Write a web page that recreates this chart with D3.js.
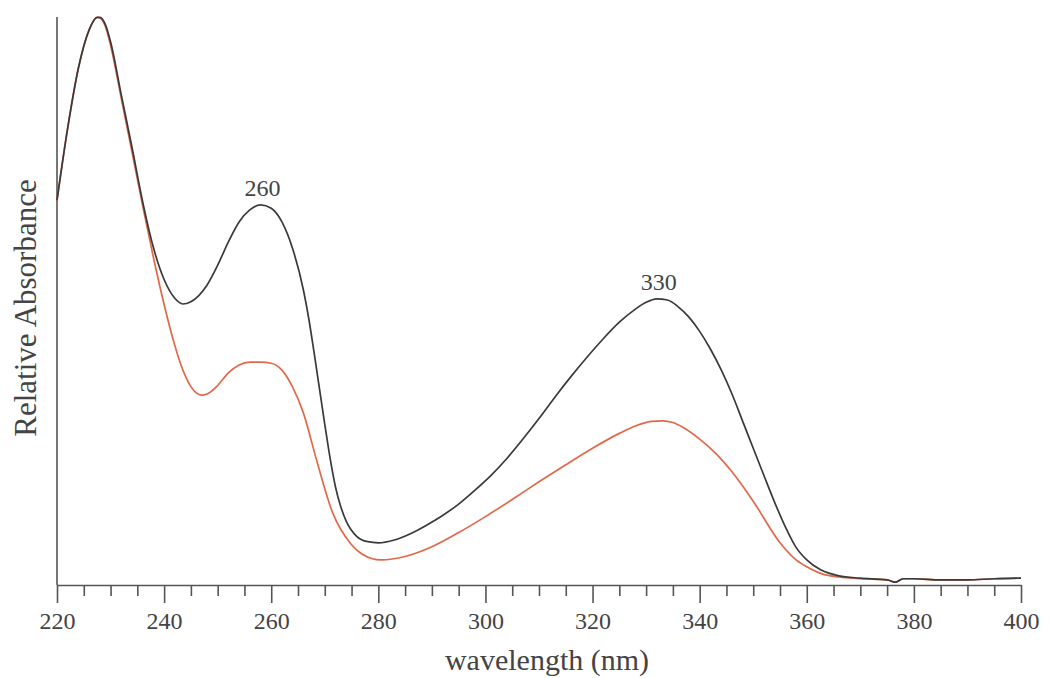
<!DOCTYPE html>
<html>
<head>
<meta charset="utf-8">
<script src="https://cdn.jsdelivr.net/npm/d3@7"></script>
<style>
  body { margin: 0; background: #fff; }
  text { font-family: "Liberation Serif", "DejaVu Serif", serif; fill: #444; }
</style>
</head>
<body>
<svg id="chart" width="1050" height="678"></svg>
<script>
// wavelength (nm) and relative absorbance
const blackNm = [220, 222, 224, 226, 227.5, 228, 229, 230, 232, 234, 236, 238, 240, 242, 243.5, 245, 248, 250, 252, 254, 256, 258, 260, 262, 264, 266, 267, 268, 269, 270, 271, 272, 273, 274, 276, 278, 280, 283, 286, 289, 292, 295, 298, 301, 304, 307, 310, 313, 316, 319, 322, 325, 328, 330, 332, 334, 336, 338, 340, 342, 344, 346, 348, 350, 352, 354, 356, 358, 360, 362.5, 366, 370, 375, 376.5, 378, 380, 385, 390, 395, 400]
const blackAbs = [0.675, 0.802, 0.907, 0.974, 0.996, 0.996, 0.984, 0.953, 0.860, 0.768, 0.672, 0.592, 0.536, 0.503, 0.493, 0.497, 0.526, 0.561, 0.602, 0.637, 0.658, 0.667, 0.661, 0.637, 0.590, 0.518, 0.468, 0.408, 0.345, 0.282, 0.222, 0.172, 0.137, 0.112, 0.085, 0.076, 0.074, 0.079, 0.090, 0.105, 0.122, 0.142, 0.166, 0.192, 0.222, 0.256, 0.292, 0.330, 0.366, 0.400, 0.432, 0.461, 0.484, 0.496, 0.502, 0.500, 0.488, 0.470, 0.445, 0.414, 0.378, 0.336, 0.288, 0.240, 0.192, 0.145, 0.102, 0.066, 0.044, 0.027, 0.016, 0.012, 0.009, 0.005, 0.011, 0.011, 0.009, 0.009, 0.011, 0.012]

const redNm = [220, 222, 224, 226, 227.5, 228, 229, 230, 232, 234, 236, 238, 240, 242, 243, 244, 245, 246, 247, 248, 250, 252, 254, 256, 258, 260, 262, 264, 266, 268.5, 271.5, 274.7, 277, 280.5, 285, 290, 295, 300, 305, 310, 315, 320, 325, 328, 331, 333, 335, 337, 340, 343, 346, 350, 355, 358, 360, 363, 366, 370, 375, 376.5, 378, 380, 385, 390, 395, 400]
const redAbs = [0.675, 0.802, 0.907, 0.974, 0.996, 0.995, 0.981, 0.947, 0.854, 0.760, 0.665, 0.575, 0.492, 0.420, 0.390, 0.366, 0.348, 0.337, 0.333, 0.335, 0.350, 0.372, 0.386, 0.391, 0.391, 0.389, 0.377, 0.347, 0.302, 0.218, 0.126, 0.074, 0.054, 0.044, 0.050, 0.067, 0.092, 0.120, 0.150, 0.181, 0.211, 0.240, 0.266, 0.279, 0.287, 0.288, 0.285, 0.276, 0.256, 0.231, 0.199, 0.147, 0.074, 0.044, 0.032, 0.019, 0.014, 0.011, 0.009, 0.005, 0.011, 0.011, 0.009, 0.009, 0.011, 0.012]

const majorTicks = [220, 240, 260, 280, 300, 320, 340, 360, 380, 400]
const peakLabels = [{nm: 258, abs: 0.667, text: "260"}, {nm: 332, abs: 0.502, text: "330"}]

const svg = d3.select("#chart")

let x = d3.scaleLinear().domain([220, 400]).range([57, 1021])
let y = d3.scaleLinear().domain([0, 1]).range([585, 15])

// minor ticks every 5 nm
let minor = d3.range(220, 401, 5).filter(function (d) { return majorTicks.indexOf(d) < 0 })

svg.append("g")
    .attr("transform", "translate(0,585)")
    .call(d3.axisBottom(x).tickValues(minor).tickSize(11).tickFormat(""))
    .call(function (g) { g.select(".domain").remove() })

let xAxis = svg.append("g")
    .attr("transform", "translate(0,585)")
    .call(d3.axisBottom(x).tickValues(majorTicks).tickSize(18).tickPadding(9).tickSizeOuter(0).tickFormat(d3.format("d")))

xAxis.selectAll("text").style("font-size", "24px").attr("fill", "#444")

svg.selectAll(".tick line").attr("stroke", "#555").attr("stroke-width", 1.6)
svg.selectAll(".domain").attr("stroke", "#555").attr("stroke-width", 1.6)

// y axis, no ticks
svg.append("line")
    .attr("x1", x(220)).attr("x2", x(220))
    .attr("y1", 17).attr("y2", 585)
    .attr("stroke", "#555").attr("stroke-width", 1.6)

let line = d3.line()
    .x(function (d) { return x(d[0]) })
    .y(function (d) { return y(d[1]) })
    .curve(d3.curveMonotoneX)

svg.append("path")
    .datum(redNm.map(function (d, i) { return [d, redAbs[i]] }))
    .attr("fill", "none")
    .attr("stroke", "#e2684a")
    .attr("stroke-width", 1.7)
    .attr("d", line)

svg.append("path")
    .datum(blackNm.map(function (d, i) { return [d, blackAbs[i]] }))
    .attr("fill", "none")
    .attr("stroke", "#3a3a3a")
    .attr("stroke-width", 1.7)
    .attr("d", line)

svg.selectAll(".peak")
    .data(peakLabels)
    .enter()
    .append("text")
    .attr("class", "peak")
    .attr("x", function (d) { return x(d.nm) + 2 })
    .attr("y", function (d) { return y(d.abs) - 9 })
    .attr("text-anchor", "middle")
    .style("font-size", "24px")
    .text(function (d) { return d.text })

svg.append("text")
    .attr("x", 547)
    .attr("y", 670)
    .attr("text-anchor", "middle")
    .style("font-size", "30px")
    .text("wavelength (nm)")

svg.append("text")
    .attr("transform", "translate(36,308) rotate(-90)")
    .attr("text-anchor", "middle")
    .style("font-size", "31px")
    .text("Relative Absorbance")
</script>
</body>
</html>
